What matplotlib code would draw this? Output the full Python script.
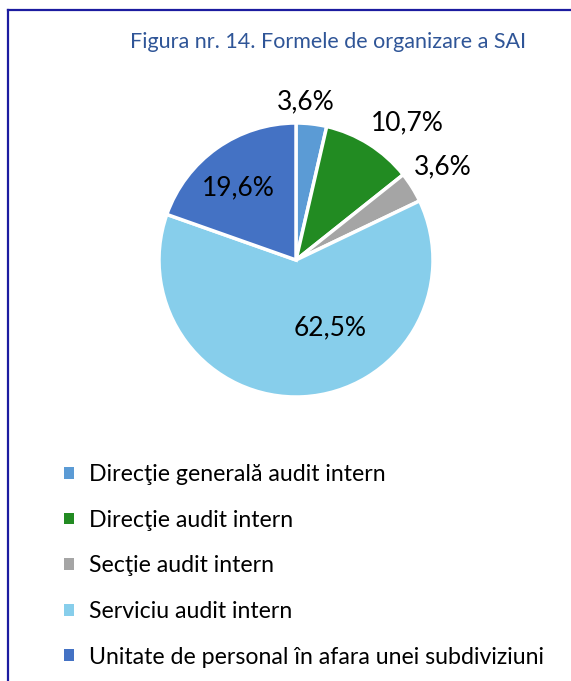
import numpy as np
import matplotlib
matplotlib.use("Agg")
import matplotlib.pyplot as plt
from matplotlib.lines import Line2D
from matplotlib.patches import Rectangle

plt.rcParams['font.family'] = ['Lato', 'DejaVu Sans']

categories = ["Direcţie generală audit intern", "Direcţie audit intern",
              "Secţie audit intern", "Serviciu audit intern",
              "Unitate de personal în afara unei subdiviziuni"]
values = [3.6, 10.7, 3.6, 62.5, 19.6]
value_labels = ["3,6%", "10,7%", "3,6%", "62,5%", "19,6%"]
title = "Figura nr. 14. Formele de organizare a SAI"

colors = ["#5B9BD5", "#228B22", "#A5A5A5", "#87CEEB", "#4472C4"]
label_r = [1.16, 1.29, 1.27, 0.55, 0.675]
label_dang = [3.0, -6.8, 0.3, 23.5, 3.6]

W, H = 571, 681
fig = plt.figure(figsize=(W / 100, H / 100), dpi=100)

cx, cy, R = 296, 260, 137
ax = fig.add_axes([(cx - R) / W, (H - cy - R) / H, 2 * R / W, 2 * R / H])
wedges, _ = ax.pie(values, colors=colors, startangle=90, counterclock=False,
                   wedgeprops=dict(edgecolor='white', linewidth=2.5))
ax.set_xlim(-1, 1)
ax.set_ylim(-1, 1)
ax.set_aspect('equal')

for w, lab, r, da in zip(wedges, value_labels, label_r, label_dang):
    ang = np.deg2rad((w.theta1 + w.theta2) / 2 + da)
    ax.text(r * np.cos(ang), r * np.sin(ang), lab, ha='center', va='center',
            fontsize=19, color='black', clip_on=False)

fig.text(328 / W, 1 - 42 / H, title, ha='center', va='center',
         fontsize=15.5, color='#2F5597')

handles = [Rectangle((0, 0), 1, 1, facecolor=c, edgecolor='none') for c in colors]
leg = fig.legend(handles, categories, loc='upper left',
                 bbox_to_anchor=(55 / W, 1 - 455 / H), frameon=False,
                 fontsize=16.7, handlelength=0.4, handleheight=0.4,
                 handletextpad=0.65, labelspacing=1.06, borderaxespad=0)

lc = '#1C1CA0'
fig.add_artist(Line2D([8 / W, 1], [1 - 10 / H, 1 - 10 / H], color=lc, lw=1.6,
                      transform=fig.transFigure))
fig.add_artist(Line2D([8 / W, 8 / W], [0, 1 - 10 / H], color=lc, lw=1.6,
                      transform=fig.transFigure))

fig.savefig("out.png", dpi=100)
